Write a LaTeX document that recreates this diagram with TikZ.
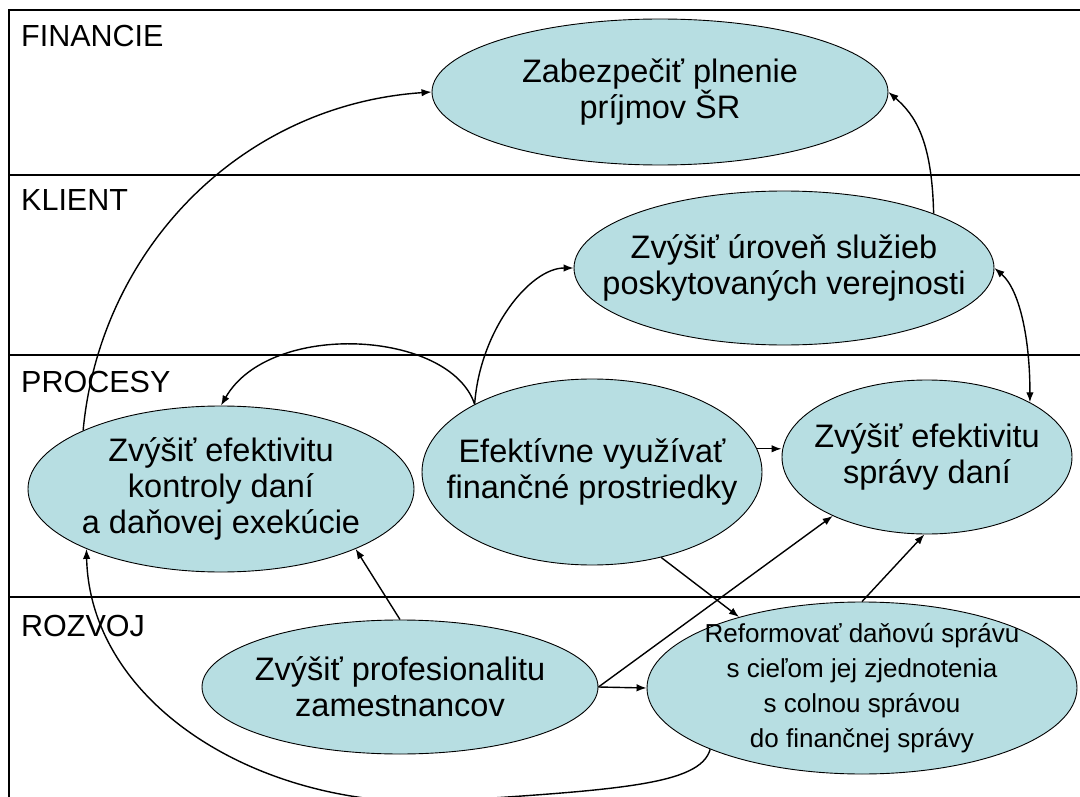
\documentclass[tikz,border=0pt]{standalone}
\usepackage{fontspec}
\setmainfont{Liberation Sans}
\usetikzlibrary{shapes.geometric,arrows.meta}
\definecolor{goalfill}{RGB}{183,222,226}
\newcommand\lblfont{\fontsize{30.5}{34}\selectfont}
\newcommand\ellfont{\fontsize{32.5}{36}\selectfont}
\newcommand\narrowellfont{\fontsize{26}{35}\selectfont}
\begin{document}
\begin{tikzpicture}[x=1pt,y=-1pt,
  frame/.style={line width=2pt},
  lane/.style={anchor=base west, inner sep=0pt, font=\lblfont},
  goal/.style={ellipse, draw, line width=0.9pt, fill=goalfill, inner xsep=-150pt, inner ysep=-80pt, align=center, font=\ellfont},
  arr/.style={line width=1.4pt, -{Latex[length=10pt,width=7.5pt]}},
  darr/.style={line width=1.4pt, {Latex[length=10pt,width=7.5pt]}-{Latex[length=10pt,width=7.5pt]}},
  conn/.style={line width=1.4pt}
]
\useasboundingbox (0,0) rectangle (1080,797);
% frame and lanes
\draw[frame] (1085,10) -- (9,10) -- (9,800);
\draw[frame] (9,175) -- (1085,175);
\draw[frame] (9,355) -- (1085,355);
\draw[frame] (9,597) -- (1085,597);
\node[lane] (lF) at (21,47) {FINANCIE};
\node[lane] (lK) at (21,211) {KLIENT};
\node[lane] (lP) at (21,392) {PROCESY};
\node[lane] (lR) at (21,636) {ROZVOJ};
% goals
\node[goal, minimum width=456pt, minimum height=146pt] (E1) at (660,92) {Zabezpečiť plnenie\\príjmov ŠR};
\node[goal, minimum width=420pt, minimum height=154pt] (E2) at (784,268) {Zvýšiť úroveň služieb\\poskytovaných verejnosti};
\node[goal, minimum width=386pt, minimum height=166pt] (E3) at (221,489) {Zvýšiť efektivitu\\kontroly daní\\a daňovej exekúcie};
\node[goal, minimum width=340pt, minimum height=186pt] (E4) at (592,472) {Efektívne využívať\\finančné prostriedky};
\node[goal, minimum width=290pt, minimum height=154pt] (E5) at (927,457) {Zvýšiť efektivitu\\správy daní};
\node[goal, minimum width=396pt, minimum height=134pt] (E6) at (400,687) {Zvýšiť profesionalitu\\zamestnancov};
\node[goal, minimum width=430pt, minimum height=172pt, font=\narrowellfont] (E7) at (862,688) {Reformovať daňovú správu\\s cieľom jej zjednotenia\\s colnou správou\\do finančnej správy};
% connectors
\draw[arr] (E3.157) .. controls (100,250) and (240,105) .. (E1.west);
\draw[arr] (E2.20) .. controls (932,140) and (915,115) .. (E1.east);
\draw[arr] (E4.150) .. controls (480,330) and (530,268) .. (E2.west);
\draw[arr] (E4.150) .. controls (450,330) and (270,320) .. (E3.north);
\draw[darr] (E2.east) .. controls (1020,290) and (1030,340) .. (E5.28);
\draw[arr] (E4.8) -- (E4.8 -| E5.west);
\draw[arr] (E6.east) -- (E5.212);
\draw[arr] (E6.east) -- (E7.west);
\draw[arr] (E6.north) -- (E3.336);
\draw[arr] (E4.309) -- (E7.150);
\draw[arr] (E7.north) -- (E5.268);
\draw[arr] (E7.202) .. controls (700,785) and (620,790) .. (430,802) .. controls (250,804) and (90,700) .. (E3.204);
\end{tikzpicture}
\end{document}
